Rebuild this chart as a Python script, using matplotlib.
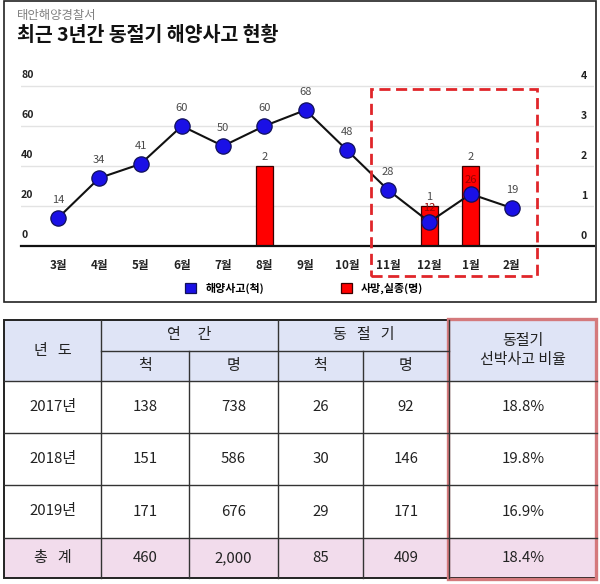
import matplotlib
matplotlib.use("Agg")
import matplotlib.pyplot as plt
from matplotlib.patches import Rectangle, Patch
import matplotlib.transforms as mtransforms

plt.rcParams['font.family'] = ['Noto Sans CJK KR', 'DejaVu Sans']

# ---------------- data ----------------
months = ['3월', '4월', '5월', '6월', '7월', '8월', '9월', '10월', '11월', '12월', '1월', '2월']
accidents = [14, 34, 41, 60, 50, 60, 68, 48, 28, 12, 26, 19]          # 해양사고(척)
casualties = [0, 0, 0, 0, 0, 2, 0, 0, 0, 1, 2, 0]                      # 사망,실종(명)
left_ticks = [0, 20, 40, 60, 80]
right_ticks = [0, 1, 2, 3, 4]
highlight = ('11월', '2월')

subtitle = '태안해양경찰서'
title = '최근 3년간 동절기 해양사고 현황'
legend_labels = ['해양사고(척)', '사망,실종(명)']

tbl_years = ['2017년', '2018년', '2019년', '총   계']
tbl_annual_ships = ['138', '151', '171', '460']
tbl_annual_people = ['738', '586', '676', '2,000']
tbl_winter_ships = ['26', '30', '29', '85']
tbl_winter_people = ['92', '146', '171', '409']
tbl_ratio = ['18.8%', '19.8%', '16.9%', '18.4%']
tbl_head_top = ['년   도', '연     간', '동   절   기', '동절기\n선박사고 비율']
tbl_head_sub = ['척', '명', '척', '명']

# ---------------- figure ----------------
W, H = 600, 584
fig = plt.figure(figsize=(W / 100, H / 100), dpi=100)
bg = fig.add_axes([0, 0, 1, 1])
bg.set_xlim(0, W)
bg.set_ylim(H, 0)
bg.axis('off')

# top panel border
bg.add_patch(Rectangle((4, 1), 592, 301, fill=False, lw=1.2, ec='#222222'))
bg.text(17, 15, subtitle, fontsize=8.9, color='#808080', va='center', ha='left')
bg.text(17, 35, title, fontsize=14.0, fontweight='bold', color='#111111', va='center', ha='left')

# ---------------- chart ----------------
px_left, px_right = 21, 594
px_bottom, px_top = 246, 66
ax = fig.add_axes([px_left / W, 1 - px_bottom / H, (px_right - px_left) / W, (px_bottom - px_top) / H])
ax2 = ax.twinx()
ax.set_zorder(ax2.get_zorder() + 1)
ax.patch.set_visible(False)

x = list(range(len(months)))
ax.set_xlim(-0.897, 12.99)
ax.set_ylim(0, 90)
ax2.set_ylim(0, 4.5)

for a in (ax, ax2):
    for s in a.spines.values():
        s.set_visible(False)
    a.tick_params(left=False, right=False, labelleft=False, labelright=False, bottom=False)

# gridlines (on the lower axes, below the bars)
for t in right_ticks[1:]:
    ax2.axhline(t, color='#e3e3e3', lw=1.0, zorder=0)
ax.axhline(0, color='#111111', lw=1.6, zorder=1, clip_on=False)

# y tick labels (above the gridlines)
off_up = mtransforms.offset_copy(ax.get_yaxis_transform(), fig=fig, x=0, y=6, units='dots')
for t in left_ticks:
    ax.text(0.0, t, str(t), transform=off_up, fontsize=7.6, fontweight='bold',
            color='#222222', ha='left', va='bottom')
off_up2 = mtransforms.offset_copy(ax2.get_yaxis_transform(), fig=fig, x=0, y=5, units='dots')
for t in right_ticks:
    ax2.text(0.988, t, str(t), transform=off_up2, fontsize=7.6, fontweight='bold',
             color='#222222', ha='right', va='bottom')

# bars (right axis)
bar_x = [i for i, v in enumerate(casualties) if v > 0]
bar_v = [v for v in casualties if v > 0]
ax2.bar(bar_x, bar_v, width=0.42, color='#ff0000', edgecolor='#3a0000', lw=0.9, zorder=2)
for bx, bv in zip(bar_x, bar_v):
    ax2.annotate(str(bv), (bx, bv), xytext=(0, 6.5), textcoords='offset points',
                 ha='center', va='center', fontsize=8, color='#4a4a4a')

# line with markers
ax.plot(x, accidents, color='#111111', lw=1.5, marker='o', markersize=11,
        markerfacecolor='#1a10e6', markeredgecolor='#10105a', markeredgewidth=0.9,
        zorder=3, clip_on=False)
scale = ax.get_ylim()[1] / ax2.get_ylim()[1]
for i, v in enumerate(accidents):
    inside_bar = casualties[i] * scale > v + 4
    ax.annotate(str(v), (i, v), xytext=(0, 10 if inside_bar else 13), textcoords='offset points',
                ha='center', va='center', fontsize=8,
                color='#9a0000' if inside_bar else '#4a4a4a', zorder=4)

# x tick labels
ax.set_xticks(x)
ax.set_xticklabels(months, fontsize=8.4, fontweight='bold', color='#222222')
ax.tick_params(axis='x', pad=9, length=0)

# red dashed highlight box
i0, i1 = months.index(highlight[0]), months.index(highlight[1])
ax.add_patch(Rectangle((i0 - 0.42, -15), (i1 + 0.62) - (i0 - 0.42), 93.5, fill=False,
                       ec='#e0262a', lw=2.0, ls=(0, (4, 2)), clip_on=False, zorder=5))

# legend
handles = [Patch(facecolor='#1a10e6', edgecolor='#10105a', lw=0.9),
           Patch(facecolor='#ff0000', edgecolor='#3a0000', lw=0.9)]
fig.legend(handles, legend_labels, loc='center', bbox_to_anchor=(304 / W, 1 - 288 / H),
           ncol=2, frameon=False, prop={'size': 7.9, 'weight': 'bold'},
           handlelength=1.0, handleheight=1.0, handletextpad=0.8, columnspacing=7.0)

# ---------------- table ----------------
col_x = [4, 101, 189, 278, 363, 449, 597]
row_y = [320, 351, 381, 433, 485, 538, 578]
header_fill = '#dfe4f6'
total_fill = '#f2dcec'
line_c = '#333333'

bg.add_patch(Rectangle((col_x[0], row_y[0]), col_x[-1] - col_x[0], row_y[2] - row_y[0],
                       fc=header_fill, ec='none'))
bg.add_patch(Rectangle((col_x[0], row_y[5]), col_x[-1] - col_x[0], row_y[6] - row_y[5],
                       fc=total_fill, ec='none'))

# horizontal lines
bg.plot([col_x[1], col_x[5]], [row_y[1], row_y[1]], color=line_c, lw=1.0)
for yy in row_y[2:6]:
    bg.plot([col_x[0], col_x[-1]], [yy, yy], color=line_c, lw=1.0)
# vertical lines
for xx in (col_x[1], col_x[3], col_x[5]):
    bg.plot([xx, xx], [row_y[0], row_y[-1]], color=line_c, lw=1.0)
for xx in (col_x[2], col_x[4]):
    bg.plot([xx, xx], [row_y[1], row_y[-1]], color=line_c, lw=1.0)
bg.add_patch(Rectangle((col_x[0], row_y[0]), col_x[-1] - col_x[0], row_y[-1] - row_y[0],
                       fill=False, ec='#222222', lw=1.4))

def cx(a, b):
    return (col_x[a] + col_x[b]) / 2

def cy(a, b):
    return (row_y[a] + row_y[b]) / 2

hfs = 10.8
tc = '#222222'
bg.text(cx(0, 1), cy(0, 2), tbl_head_top[0], fontsize=hfs, ha='center', va='center', color=tc)
bg.text(cx(1, 3), cy(0, 1), tbl_head_top[1], fontsize=hfs, ha='center', va='center', color=tc)
bg.text(cx(3, 5), cy(0, 1), tbl_head_top[2], fontsize=hfs, ha='center', va='center', color=tc)
bg.text(cx(5, 6), cy(0, 2), tbl_head_top[3], fontsize=hfs, ha='center', va='center', color=tc,
        linespacing=1.4)
for k, lab in enumerate(tbl_head_sub):
    bg.text(cx(k + 1, k + 2), cy(1, 2), lab, fontsize=hfs, ha='center', va='center', color=tc)

cols = [tbl_years, tbl_annual_ships, tbl_annual_people, tbl_winter_ships, tbl_winter_people, tbl_ratio]
for r in range(len(tbl_years)):
    for c, colvals in enumerate(cols):
        bg.text(cx(c, c + 1), cy(r + 2, r + 3), colvals[r], fontsize=10.8,
                ha='center', va='center', color=tc)

# highlight border around last column
bg.add_patch(Rectangle((col_x[5] - 1, row_y[0] - 1), col_x[6] - col_x[5], row_y[-1] - row_y[0] + 2,
                       fill=False, ec='#d4797c', lw=2.4))

fig.savefig('out.png', dpi=100)
